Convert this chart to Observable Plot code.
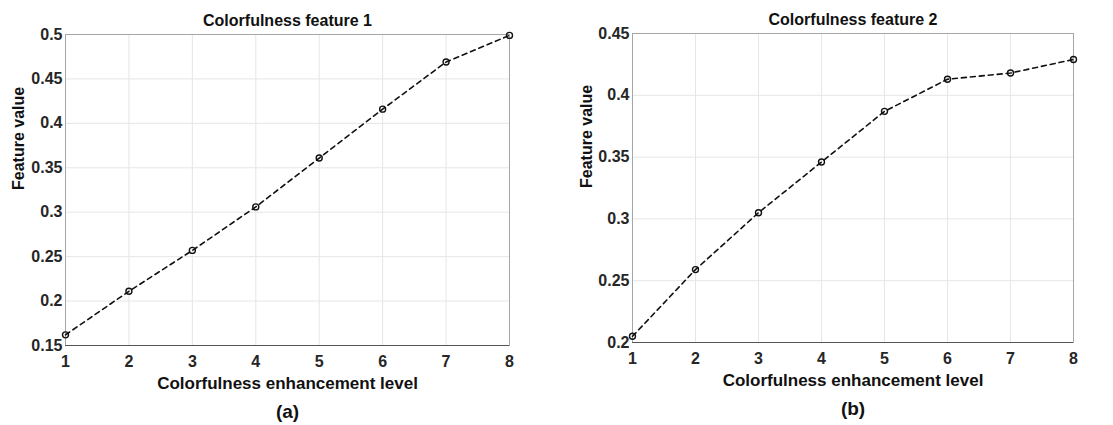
<!DOCTYPE html>
<html>
<head>
<meta charset="utf-8">
<script src="https://cdn.jsdelivr.net/npm/d3@7"></script>
<script src="https://cdn.jsdelivr.net/npm/@observablehq/plot@0.6"></script>
<style>
  html, body { margin: 0; padding: 0; background: #fff; }
  #wrap { position: relative; width: 1113px; height: 425px; background: #fff; overflow: hidden; }
  #wrap > div { position: absolute; top: 0; }
</style>
</head>
<body>
<div id="wrap"><div id="pa"></div><div id="pb"></div></div>
<script>
// enhancement levels
const levels = [1, 2, 3, 4, 5, 6, 7, 8];
// Colorfulness feature 1 values
const feature1 = [0.162, 0.211, 0.257, 0.306, 0.361, 0.416, 0.469, 0.499];
// Colorfulness feature 2 values
const feature2 = [0.205, 0.259, 0.305, 0.346, 0.387, 0.413, 0.418, 0.429];
// tick values
const xTicks = [1, 2, 3, 4, 5, 6, 7, 8];
const yTicks1 = [0.15, 0.2, 0.25, 0.3, 0.35, 0.4, 0.45, 0.5];
const yTicks2 = [0.2, 0.25, 0.3, 0.35, 0.4, 0.45];
const titles = ["Colorfulness feature 1", "Colorfulness feature 2"];
const panelLabels = ["(a)", "(b)"];
const xLabel = "Colorfulness enhancement level";
const yLabel = "Feature value";

const fmt = d => String(+d.toFixed(2));
const FONT = "'Liberation Sans', Arial, sans-serif";

function panel({values, yDomain, yTicks, title, tag, width, ml, mr, mt, mb, ylDx}) {
  const data = levels.map((l, i) => ({level: l, value: values[i]}));
  return Plot.plot({
    width, height: 425,
    marginLeft: ml, marginRight: mr, marginTop: mt, marginBottom: mb,
    style: {fontFamily: FONT, fontWeight: "bold", fontSize: "15px", background: "#fff", color: "#262626"},
    x: {domain: [1, 8], label: null, axis: null},
    y: {domain: yDomain, label: null, axis: null},
    marks: [
      Plot.gridX(xTicks, {stroke: "#e6e6e6", strokeOpacity: 1}),
      Plot.gridY(yTicks, {stroke: "#e6e6e6", strokeOpacity: 1}),
      Plot.frame({stroke: "#a6a6a6"}),
      Plot.ruleY([yDomain[0]], {stroke: "#555"}),
      // tick labels
      Plot.text(xTicks, {x: d => d, frameAnchor: "bottom", lineAnchor: "middle", dy: 16, text: fmt, fontSize: 16, fill: "#262626"}),
      Plot.text(yTicks, {y: d => d, frameAnchor: "left", textAnchor: "end", dx: -3, text: fmt, fontSize: 16, fill: "#262626"}),
      Plot.line(data, {x: "level", y: "value", stroke: "#111", strokeWidth: 1.6, strokeDasharray: "5,4"}),
      Plot.dot(data, {x: "level", y: "value", r: 3, stroke: "#111", strokeWidth: 1.4, fill: "none"}),
      Plot.text([title], {frameAnchor: "top", lineAnchor: "middle", dy: -14, fontSize: 16, fill: "#111"}),
      Plot.text([xLabel], {frameAnchor: "bottom", lineAnchor: "middle", dy: 38, fontSize: 17, fill: "#111"}),
      Plot.text([tag], {frameAnchor: "bottom", lineAnchor: "middle", dy: 66, fontSize: 19, fill: "#111"}),
      Plot.text([yLabel], {frameAnchor: "left", dx: ylDx, rotate: -90, fontSize: 16, fill: "#111"})
    ]
  });
}

const pa = document.getElementById("pa");
const pb = document.getElementById("pb");
pa.style.left = "0px";
pb.style.left = "556px";
pa.appendChild(panel({values: feature1, yDomain: [0.15, 0.5], yTicks: yTicks1, title: titles[0], tag: panelLabels[0],
  width: 556, ml: 65, mr: 47, mt: 34, mb: 80, ylDx: -47}));
pb.appendChild(panel({values: feature2, yDomain: [0.2, 0.45], yTicks: yTicks2, title: titles[1], tag: panelLabels[1],
  width: 557, ml: 76, mr: 40, mt: 33, mb: 83, ylDx: -46}));
</script>
</body>
</html>
